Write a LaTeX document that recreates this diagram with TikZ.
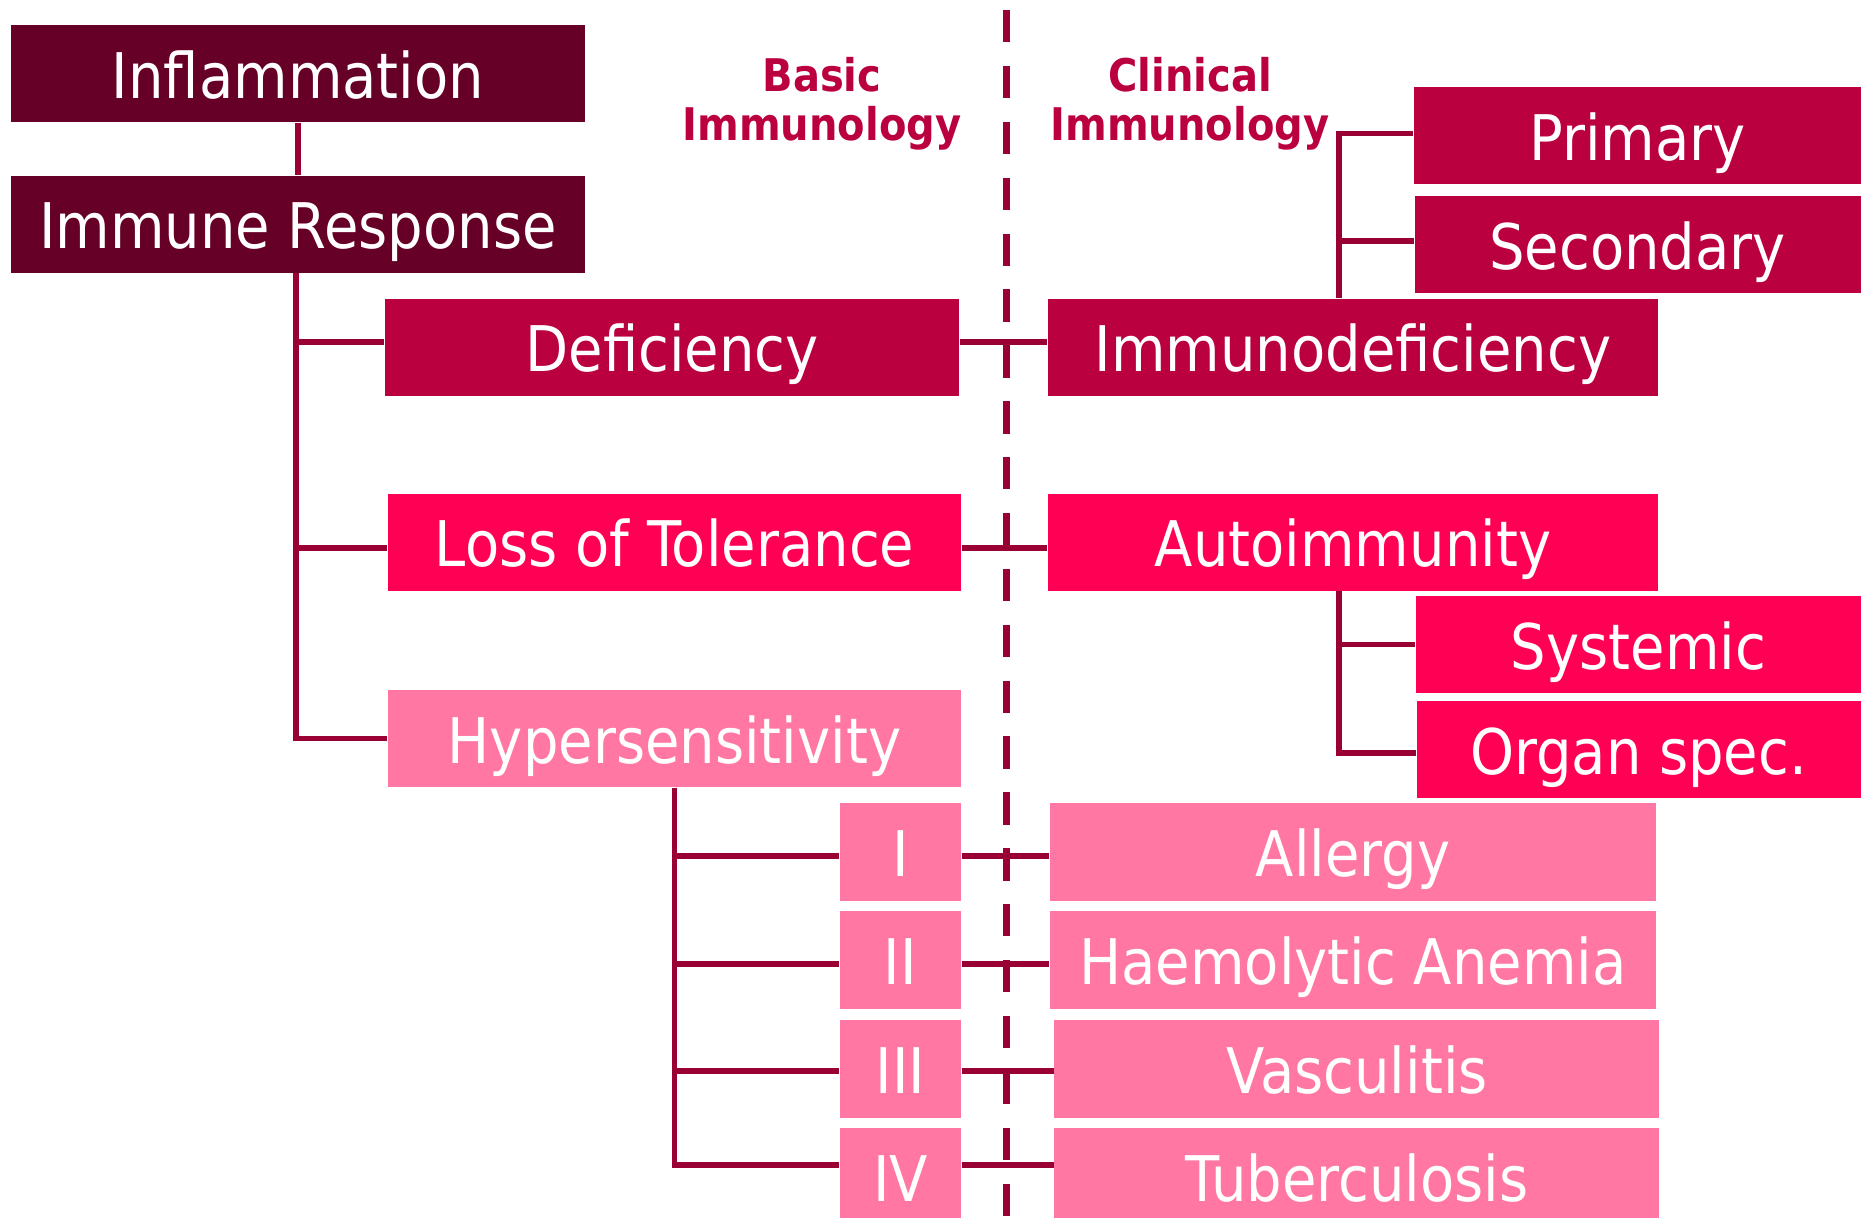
\documentclass[tikz,border=0pt]{standalone}
\usepackage{fontspec}
\setmainfont{DejaVu Sans}[FakeStretch=0.89]
\usetikzlibrary{positioning}

\definecolor{wine}{HTML}{660026}
\definecolor{crimson}{HTML}{BB003F}
\definecolor{hotpink}{HTML}{FF0055}
\definecolor{softpink}{HTML}{FF77A2}
\definecolor{linkred}{HTML}{990033}

\begin{document}
\begin{tikzpicture}[
          box/.style={rectangle, inner sep=0pt, minimum height=0.97cm, text height=16.1pt, text depth=2.15pt, text=white, font=\fontsize{17.9}{20}\selectfont},
          roman/.style={box, fill=softpink, minimum width=1.21cm, minimum height=0.98cm},
          clinic/.style={box, fill=softpink, minimum height=0.98cm},
          head/.style={align=center, text=crimson, font=\fontsize{12.8}{13.9}\selectfont\bfseries},
          link/.style={draw=linkred, line width=1.7pt},
          divider/.style={draw=linkred, line width=2.2pt, dash pattern=on 9.2pt off 6.7pt}
        ]
          \useasboundingbox (0,0) rectangle (18.61,-12.18);

          % Column headings
          \node[head] (basic) at (8.22,-1.04) {Basic\\Immunology};
          \node[head] (clinical) at (11.90,-1.04) {Clinical\\Immunology};

          % Left column
          \node[box, fill=wine, minimum width=5.74cm] (inflam) at (2.98,-0.735) {Inflammation};
          \node[box, fill=wine, minimum width=5.74cm] (immune) at (2.98,-2.24) {Immune Response};
          \node[box, fill=crimson, minimum width=5.74cm] (defic) at (6.72,-3.47) {Deficiency};
          \node[box, fill=hotpink, minimum width=5.73cm] (loss) at (6.745,-5.42) {Loss of Tolerance};
          \node[box, fill=softpink, minimum width=5.73cm] (hyper) at (6.745,-7.385) {Hypersensitivity};

          % Types of hypersensitivity
          \node[roman] (type1) at (9.005,-8.52) {I};
          \node[roman, below=0.09cm of type1] (type2) {II};
          \node[roman, below=0.09cm of type2] (type3) {III};
          \node[roman, below=0.09cm of type3] (type4) {IV};

          % Right column
          \node[box, fill=crimson, minimum width=6.1cm] (immdef) at (13.53,-3.47) {Immunodeficiency};
          \node[box, fill=hotpink, minimum width=6.1cm] (autoimm) at (13.53,-5.42) {Autoimmunity};

          \node[box, fill=crimson, minimum width=4.47cm] (primary) at (16.375,-1.355) {Primary};
          \node[box, fill=crimson, minimum width=4.46cm, below=0.11cm of primary] (secondary) {Secondary};
          \node[box, fill=hotpink, minimum width=4.45cm] (systemic) at (16.385,-6.445) {Systemic};
          \node[box, fill=hotpink, minimum width=4.44cm, below=0.07cm of systemic] (organ) {Organ spec.};

          \node[clinic, minimum width=6.06cm] (allergy) at (13.53,-8.52) {Allergy};
          \node[clinic, minimum width=6.06cm, below=0.09cm of allergy] (anemia) {Haemolytic Anemia};
          \node[clinic, minimum width=6.05cm, below right=0.09cm and -6.03cm of anemia] (vascul) {Vasculitis};
          \node[clinic, minimum width=6.05cm, below=0.09cm of vascul] (tuberc) {Tuberculosis};

          % Divider
          \coordinate (divtop) at (10.065,-0.10);
          \coordinate (divbot) at (10.065,-12.18);
          \draw[divider] (divtop) -- (divbot);

          % Tree lines
          \draw[link] (inflam.south) -- (immune.north);
          \draw[link] ([xshift=-0.02cm]immune.south) |- ([yshift=0.05cm]defic.west);
          \draw[link] ([xshift=-0.02cm]immune.south) |- ([yshift=-0.06cm]loss.west);
          \draw[link] ([xshift=-0.02cm]immune.south) |- (hyper.west);

          \draw[link] ([xshift=-0.14cm]immdef.north) |- ([yshift=0.02cm]primary.west);
          \draw[link] ([xshift=-0.14cm]immdef.north) |- ([yshift=0.04cm]secondary.west);
          \draw[link] ([xshift=-0.14cm]autoimm.south) |- (systemic.west);
          \draw[link] ([xshift=-0.14cm]autoimm.south) |- ([yshift=-0.03cm]organ.west);

          \draw[link] (hyper.south) |- ([yshift=-0.04cm]type1.west);
          \draw[link] (hyper.south) |- ([yshift=-0.04cm]type2.west);
          \draw[link] (hyper.south) |- ([yshift=-0.02cm]type3.west);
          \draw[link] (hyper.south) |- ([yshift=0.12cm]type4.west);

          % Basic to clinical
          \draw[link] ([yshift=0.05cm]defic.east) -- ([yshift=0.05cm]immdef.west);
          \draw[link] ([yshift=-0.06cm]loss.east) -- ([yshift=-0.06cm]autoimm.west);
          \draw[link] ([yshift=-0.04cm]type1.east) -- ([yshift=-0.04cm]allergy.west);
          \draw[link] ([yshift=-0.04cm]type2.east) -- ([yshift=-0.04cm]anemia.west);
          \draw[link] ([yshift=-0.02cm]type3.east) -- ([yshift=-0.02cm]vascul.west);
          \draw[link] ([yshift=0.12cm]type4.east) -- ([yshift=0.12cm]tuberc.west);
      \end{tikzpicture}
\end{document}
